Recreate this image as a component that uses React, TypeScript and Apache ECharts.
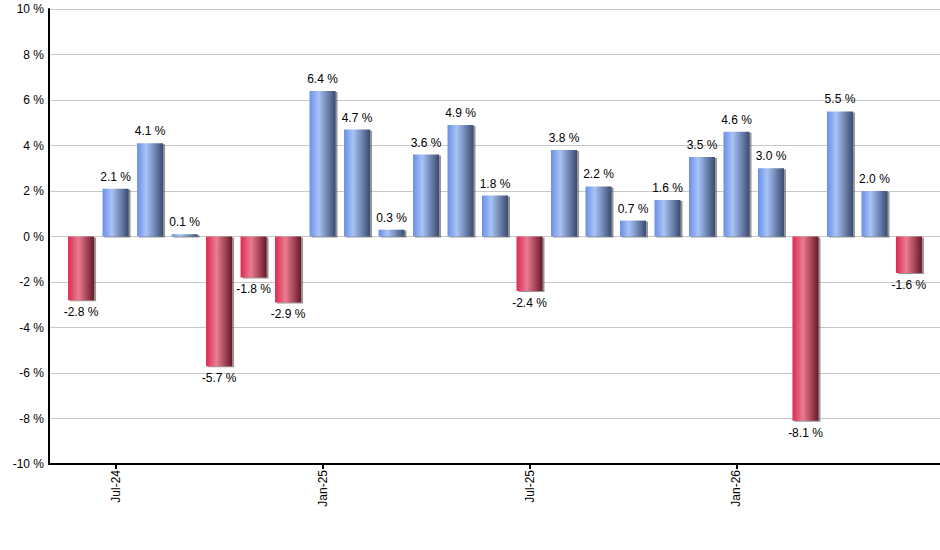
import React, { useEffect, useRef } from "react";
import * as echarts from "echarts";

// Monthly returns, Jun-24 through Jun-26
const months = [
  "Jun-24", "Jul-24", "Aug-24", "Sep-24", "Oct-24", "Nov-24", "Dec-24",
  "Jan-25", "Feb-25", "Mar-25", "Apr-25", "May-25", "Jun-25",
  "Jul-25", "Aug-25", "Sep-25", "Oct-25", "Nov-25", "Dec-25",
  "Jan-26", "Feb-26", "Mar-26", "Apr-26", "May-26", "Jun-26",
];
const returns = [
  -2.8, 2.1, 4.1, 0.1, -5.7, -1.8, -2.9,
  6.4, 4.7, 0.3, 3.6, 4.9, 1.8,
  -2.4, 3.8, 2.2, 0.7, 1.6, 3.5,
  4.6, 3.0, -8.1, 5.5, 2.0, -1.6,
];
// Months that get a tick and label on the x axis
const tickMonths = ["Jul-24", "Jan-25", "Jul-25", "Jan-26"];
const yTicks = [-10, -8, -6, -4, -2, 0, 2, 4, 6, 8, 10];

const blueFill = new echarts.graphic.LinearGradient(0, 0, 1, 0, [
  { offset: 0, color: "#6a8fe6" },
  { offset: 0.35, color: "#a8c3f6" },
  { offset: 1, color: "#394b70" },
]);
const redFill = new echarts.graphic.LinearGradient(0, 0, 1, 0, [
  { offset: 0, color: "#dc2a50" },
  { offset: 0.4, color: "#ea7c91" },
  { offset: 1, color: "#691827" },
]);

export default function App() {
  const ref = useRef<HTMLDivElement>(null);

  useEffect(() => {
    document.body.style.margin = "0";
    const chart = echarts.init(ref.current!, null, { renderer: "svg" });
    const tickIdx = tickMonths.map((m) => months.indexOf(m));
    const font = "Liberation Sans, Arial, sans-serif";

    chart.setOption({
      animation: false,
      backgroundColor: "#ffffff",
      grid: { left: 49, right: 0, top: 9, bottom: 86, containLabel: false },
      xAxis: {
        type: "value",
        min: -0.93,
        max: 24.9,
        splitLine: { show: false },
        axisLine: { show: true, onZero: false, lineStyle: { color: "#000", width: 2 } },
        axisTick: {
          show: true,
          customValues: tickIdx,
          length: 5,
          lineStyle: { color: "#000", width: 2 },
        },
        axisLabel: {
          customValues: tickIdx,
          rotate: 90,
          margin: 6,
          color: "#000",
          fontSize: 12,
          fontFamily: font,
          formatter: (v: number) => months[Math.round(v)] ?? "",
        },
      },
      yAxis: {
        type: "value",
        min: -10,
        max: 10,
        interval: 2,
        axisLine: { show: true, onZero: false, lineStyle: { color: "#000", width: 2 } },
        axisTick: { show: false },
        splitLine: { show: true, lineStyle: { color: "#c8c8c8", width: 1 } },
        axisLabel: {
          color: "#000",
          fontSize: 12,
          fontFamily: font,
          margin: 5,
          formatter: (v: number) => (yTicks.includes(v) ? `${v} %` : ""),
        },
      },
      series: [
        {
          type: "bar",
          barWidth: 26,
          data: returns.map((v, i) => ({
            value: [i, v],
            itemStyle: {
              color: v >= 0 ? blueFill : redFill,
              shadowColor: "rgba(60,60,60,0.55)",
              shadowOffsetX: 2,
              shadowOffsetY: 1,
              shadowBlur: 1,
            },
            label: {
              show: true,
              position: v >= 0 ? "top" : "bottom",
              distance: 6,
              color: "#000",
              fontSize: 12,
              fontFamily: font,
              formatter: `${v.toFixed(1)} %`,
            },
          })),
        },
      ],
    });
    return () => chart.dispose();
  }, []);

  return <div ref={ref} style={{ width: 940, height: 550 }} />;
}
